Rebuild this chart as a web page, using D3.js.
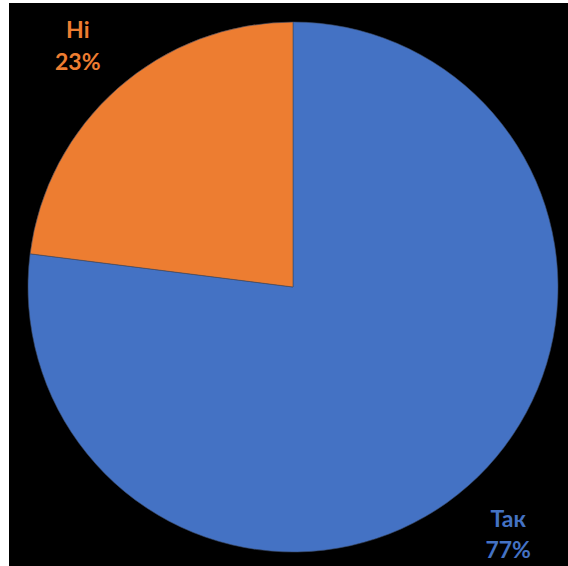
<!DOCTYPE html>
<html>
<head>
<meta charset="utf-8">
<script src="https://cdn.jsdelivr.net/npm/d3@7"></script>
<style>
  html, body { margin: 0; padding: 0; background: #ffffff; }
  svg { display: block; }
</style>
</head>
<body>
<svg id="chart" width="568" height="566"></svg>
<script>
// Survey answers and their shares (percent)
const categories = ["Так", "Ні"];
const shares = [77, 23];
const colors = ["#4472C4", "#ED7D31"];

const width = 568, height = 566;
const svg = d3.select("#chart");

// black chart area
svg.append("rect")
  .attr("x", 9).attr("y", 3)
  .attr("width", width - 9).attr("height", height - 3)
  .attr("fill", "#000000");

const cx = 293, cy = 287, radius = 265;
const g = svg.append("g").attr("transform", `translate(${cx},${cy})`);

const pie = d3.pie().sort(null).value(d => d.value);
const data = pie(categories.map((c, i) => ({ name: c, value: shares[i], color: colors[i] })));

const arc = d3.arc().innerRadius(0).outerRadius(radius);
const labelArc = d3.arc().innerRadius(radius * 1.228).outerRadius(radius * 1.228);

g.selectAll("path.slice")
  .data(data)
  .join("path")
  .attr("class", "slice")
  .attr("d", arc)
  .attr("fill", d => d.data.color)
  .attr("stroke", "#3b4a66")
  .attr("stroke-width", 0.6);

const labels = g.selectAll("text.label")
  .data(data)
  .join("text")
  .attr("class", "label")
  .attr("transform", d => `translate(${labelArc.centroid(d)})`)
  .attr("text-anchor", "middle")
  .attr("fill", d => d.data.color)
  .style("font-family", "Lato, 'Open Sans', sans-serif")
  .style("font-weight", "bold")
  .style("font-size", "23px");

labels.append("tspan")
  .attr("x", 0).attr("dy", "-0.2em")
  .text(d => d.data.name);
labels.append("tspan")
  .attr("x", 0).attr("dy", "1.38em")
  .text(d => d.data.value + "%");
</script>
</body>
</html>
